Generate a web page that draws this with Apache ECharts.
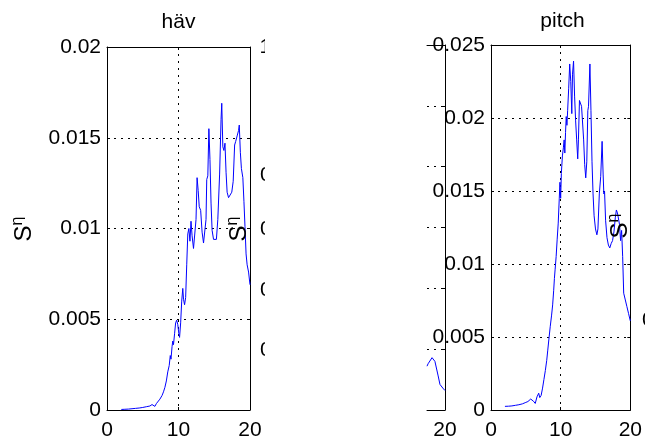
<!DOCTYPE html>
<html>
<head>
<meta charset="utf-8">
<script src="https://cdn.jsdelivr.net/npm/echarts@6/dist/echarts.min.js"></script>
<style>
html,body{margin:0;padding:0;background:#fff;}
#c{width:645px;height:441px;}
</style>
</head>
<body>
<div id="c"></div>
<script>
// ---- data ----
const havTitle = 'häv';
const pitchTitle = 'pitch';
const xTicks = [0, 10, 20];
const havYTicks = [0, 0.005, 0.01, 0.015, 0.02];
const pitchYTicks = [0, 0.005, 0.01, 0.015, 0.02, 0.025];

const havFreq = [2.0,2.5,3.0,3.5,4.0,4.5,5.0,5.5,6.0,6.3,6.5,6.7,6.9,7.1,7.4,7.7,7.9,8.1,8.3,8.5,8.7,8.85,8.95,9.1,9.2,9.3,9.45,9.6,9.75,9.9,10.05,10.15,10.3,10.45,10.6,10.7,10.85,11.0,11.15,11.3,11.45,11.6,11.75,11.9,12.1,12.3,12.45,12.6,12.75,12.9,13.1,13.3,13.5,13.7,13.85,13.95,14.1,14.25,14.4,14.55,14.7,14.9,15.1,15.3,15.5,15.75,15.95,16.05,16.2,16.35,16.5,16.65,16.8,17.0,17.2,17.45,17.65,17.85,18.0,18.2,18.4,18.5,18.65,18.8,19.0,19.15,19.3,19.45,19.6,19.8,20.0];
const havS = [0.00003,0.00004,0.00005,0.00007,0.00009,0.00011,0.00014,0.00018,0.00022,0.00030,0.00026,0.00020,0.00035,0.00045,0.00060,0.00080,0.00100,0.00125,0.00160,0.00210,0.00245,0.00300,0.00280,0.00350,0.00380,0.00360,0.00420,0.00480,0.00495,0.00470,0.00420,0.00400,0.00480,0.00600,0.00670,0.00610,0.00580,0.00620,0.00800,0.00970,0.01000,0.00930,0.01040,0.00960,0.00890,0.00880,0.01050,0.01280,0.01210,0.01120,0.01100,0.00980,0.00920,0.00910,0.01050,0.01270,0.01290,0.01550,0.01380,0.01140,0.00990,0.00940,0.00930,0.00940,0.01050,0.01300,0.01600,0.01690,0.01450,0.01430,0.01470,0.01310,0.01200,0.01170,0.01170,0.01200,0.01260,0.01460,0.01480,0.01510,0.01540,0.01570,0.01420,0.01330,0.01280,0.01150,0.01010,0.00860,0.00800,0.00760,0.00690];

const pitchFreq = [2.0,2.5,3.0,3.5,4.0,4.5,5.0,5.3,5.5,5.7,5.9,6.1,6.35,6.6,6.85,7.0,7.2,7.4,7.6,7.8,8.0,8.15,8.3,8.5,8.7,8.85,9.0,9.1,9.2,9.35,9.5,9.65,9.8,9.9,10.0,10.1,10.25,10.4,10.5,10.6,10.7,10.8,10.9,11.0,11.15,11.3,11.45,11.6,11.7,11.85,12.0,12.15,12.3,12.45,12.55,12.7,12.85,13.0,13.15,13.3,13.45,13.6,13.75,13.9,14.0,14.2,14.35,14.5,14.65,14.8,15.0,15.2,15.35,15.55,15.75,15.95,16.1,16.2,16.3,16.45,16.65,16.85,17.05,17.25,17.45,17.65,17.85,18.0,18.15,18.3,18.45,18.6,18.75,18.9,19.05,19.25,19.5,19.75,20.0];
const pitchS = [0.00025,0.00026,0.00028,0.00032,0.00036,0.00042,0.00052,0.00058,0.00050,0.00075,0.00085,0.00060,0.00045,0.00090,0.00115,0.00085,0.00100,0.00150,0.00210,0.00270,0.00340,0.00410,0.00480,0.00570,0.00650,0.00720,0.00820,0.00900,0.00960,0.01050,0.01170,0.01280,0.01450,0.01560,0.01450,0.01620,0.01740,0.01800,0.01850,0.01760,0.01900,0.02010,0.01950,0.02050,0.02200,0.02370,0.02250,0.02030,0.02300,0.02390,0.02150,0.01980,0.01850,0.01720,0.01850,0.02120,0.02110,0.02080,0.02080,0.01850,0.01680,0.01590,0.01700,0.02050,0.02080,0.02370,0.02050,0.01700,0.01480,0.01330,0.01240,0.01200,0.01240,0.01480,0.01600,0.01840,0.01610,0.01480,0.01500,0.01300,0.01180,0.01130,0.01110,0.01140,0.01160,0.01220,0.01320,0.01370,0.01350,0.01360,0.01270,0.01160,0.01230,0.01050,0.00800,0.00760,0.00710,0.00660,0.00610];

// partially visible neighbouring axes (cut off in the reference)
const fragFreq = [17.5,17.65,18.2,18.6,19.05,19.3,19.7,20.0];
const fragS = [0.0036,0.0038,0.0043,0.0040,0.0028,0.0021,0.0018,0.0016];
const fragXTicks = [17.5, 20];
const fragYTicks = [0, 0.005, 0.01, 0.015, 0.02, 0.025, 0.03];
const hiddenLabels = ['1', '0', '0', '0', '0'];
const yLabelMain = 'S';
const yLabelSup = 'η';

// ---- chart ----
const FONT = "'Liberation Sans', Arial, sans-serif";
const BLACK = '#000';
const dotted = { color: BLACK, width: 1, type: [2, 5] };
const pairs = (xs, ys) => xs.map((x, i) => [x, ys[i]]);
const span = a => ({ min: a[0], max: a[a.length - 1], interval: a[1] - a[0] });
const fmt = v => String(+v.toFixed(4));

function xAx(grid, ticks, pos, opts) {
  const s = span(ticks);
  return Object.assign({
    type: 'value', gridIndex: grid, position: pos, min: s.min, max: s.max, interval: s.interval,
    axisLine: { show: true, onZero: false, lineStyle: { color: BLACK, width: 1 } },
    axisTick: { show: true, inside: true, length: 3, lineStyle: { color: BLACK } },
    axisLabel: pos === 'bottom' ? { show: true, color: BLACK, fontSize: 21, fontFamily: FONT, margin: 10, formatter: fmt } : { show: false },
    splitLine: pos === 'bottom' ? { show: true, lineStyle: dotted } : { show: false }
  }, opts || {});
}
function yAx(grid, ticks, pos, opts) {
  const s = span(ticks);
  return Object.assign({
    type: 'value', gridIndex: grid, position: pos, min: s.min, max: s.max, interval: s.interval,
    axisLine: { show: true, onZero: false, lineStyle: { color: BLACK, width: 1 } },
    axisTick: { show: true, inside: true, length: 3, lineStyle: { color: BLACK } },
    axisLabel: pos === 'left' ? { show: true, color: BLACK, fontSize: 21, fontFamily: FONT, margin: 6, formatter: fmt } : { show: false },
    splitLine: pos === 'left' ? { show: true, lineStyle: dotted } : { show: false }
  }, opts || {});
}

function ylab(x, y) {
  return {
    type: 'text', x: x, y: y, rotation: Math.PI / 2, z: 100,
    style: {
      text: '{s|' + yLabelMain + '}{e|' + yLabelSup + '}',
      align: 'center', verticalAlign: 'middle',
      rich: {
        s: { fontSize: 24, fontFamily: FONT, fill: BLACK, lineHeight: 26, verticalAlign: 'bottom' },
        e: { fontSize: 16, fontFamily: FONT, fill: BLACK, lineHeight: 26, verticalAlign: 'top' }
      }
    }
  };
}
function txt(t, x, y, align, size) {
  return { type: 'text', x: x, y: y, z: 100,
    style: { text: t, fontSize: size || 21, fontFamily: FONT, fill: BLACK, align: align || 'center', verticalAlign: 'middle' } };
}

const hiddenY = [47, 175, 229, 290, 350];
const graphics = [
  txt(havTitle, 178.5, 22),
  txt(pitchTitle, 562.5, 21.5),
  ylab(23, 229),
  ylab(238, 229),
  ylab(619, 226)
];
hiddenLabels.forEach((t, i) => graphics.push(txt(t, i === 0 ? 259.5 : 260, hiddenY[i], 'left')));
// white mask: the neighbouring axes are cut off in the reference
graphics.push({ type: 'rect', x: 265, y: 25, shape: { x: 0, y: 0, width: 40, height: 345 }, style: { fill: '#ffffff', stroke: null }, z: 200, zlevel: 1, silent: true });
graphics.push(txt('0', 642, 320, 'left'));

const chart = echarts.init(document.getElementById('c'), null, { renderer: 'canvas' });
chart.setOption({
  animation: false,
  backgroundColor: '#fff',
  textStyle: { fontFamily: FONT },
  grid: [
    { left: 107, top: 47, width: 143, height: 363, show: false },
    { left: 491, top: 45, width: 143, height: 365, show: false },
    { left: 427, top: 45, width: 18, height: 365, show: false }
  ],
  xAxis: [
    xAx(0, xTicks, 'bottom'),
    xAx(0, xTicks, 'top'),
    xAx(1, xTicks, 'bottom'),
    xAx(1, xTicks, 'top'),
    xAx(2, fragXTicks, 'bottom', { axisTick: { show: false }, splitLine: { show: false },
      axisLabel: { show: true, showMinLabel: false, color: BLACK, fontSize: 21, fontFamily: FONT, margin: 10, formatter: fmt } }),
    xAx(2, fragXTicks, 'top', { axisTick: { show: false } })
  ],
  yAxis: [
    yAx(0, havYTicks, 'left'),
    yAx(0, havYTicks, 'right'),
    yAx(1, pitchYTicks, 'left'),
    yAx(1, pitchYTicks, 'right'),
    yAx(2, fragYTicks, 'right', { splitLine: { show: true, lineStyle: dotted } })
  ],
  series: [
    { type: 'line', xAxisIndex: 0, yAxisIndex: 0, data: pairs(havFreq, havS), showSymbol: false, symbol: 'none',
      lineStyle: { color: '#0000ff', width: 1 }, clip: true },
    { type: 'line', xAxisIndex: 2, yAxisIndex: 2, data: pairs(pitchFreq, pitchS), showSymbol: false, symbol: 'none',
      lineStyle: { color: '#0000ff', width: 1 }, clip: true },
    { type: 'line', xAxisIndex: 4, yAxisIndex: 4, data: pairs(fragFreq, fragS), showSymbol: false, symbol: 'none',
      lineStyle: { color: '#0000ff', width: 1 }, clip: true }
  ],
  graphic: graphics
});
</script>
</body>
</html>
